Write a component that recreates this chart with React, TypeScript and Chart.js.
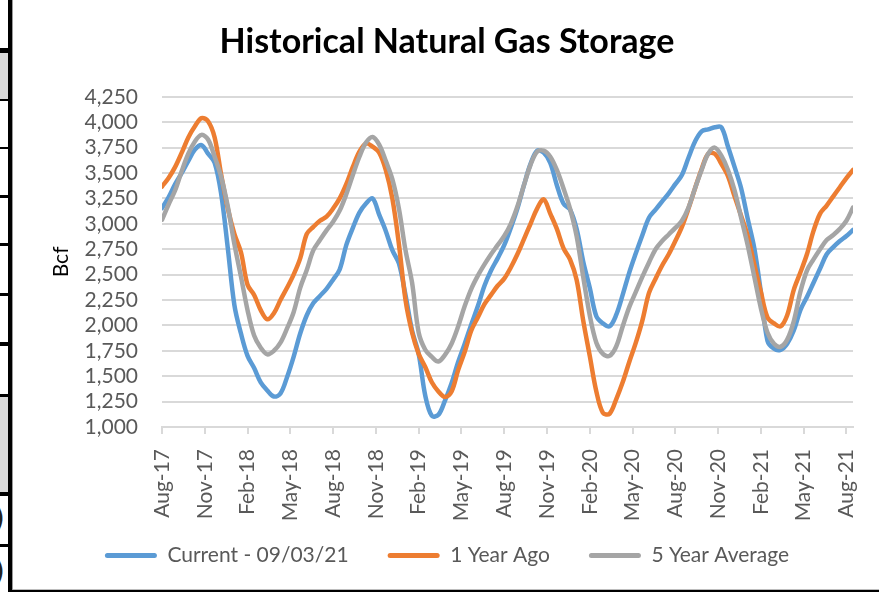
import React, { useEffect, useRef } from 'react';
import { Chart, registerables } from 'chart.js';

Chart.register(...registerables);

// Week index (weekly EIA reports, first = week ending 08/25/17), sampled every 2 weeks
const sampleWeeks = [
  0, 2, 4, 6, 8, 10, 12, 14, 16, 18, 20, 22, 24, 26, 28, 30, 32, 34, 36, 38,
  40, 42, 44, 46, 48, 50, 52, 54, 56, 58, 60, 62, 64, 66, 68, 70, 72, 74, 76, 78,
  80, 82, 84, 86, 88, 90, 92, 94, 96, 98, 100, 102, 104, 106, 108, 110, 112, 114, 116, 118,
  120, 122, 124, 126, 128, 130, 132, 134, 136, 138, 140, 142, 144, 146, 148, 150, 152, 154, 156, 158,
  160, 162, 164, 166, 168, 170, 172, 174, 176, 178, 180, 182, 184, 186, 188, 190, 192, 194, 196, 198,
  200, 202, 204, 206, 208, 210,
];

const tickWeeks = [0, 13, 26, 39, 52, 65, 78, 91, 104, 117, 130, 143, 156, 169, 182, 195, 208];
const tickLabels = [
  'Aug-17', 'Nov-17', 'Feb-18', 'May-18', 'Aug-18', 'Nov-18', 'Feb-19', 'May-19', 'Aug-19',
  'Nov-19', 'Feb-20', 'May-20', 'Aug-20', 'Nov-20', 'Feb-21', 'May-21', 'Aug-21',
];

const seriesNames = ['Current - 09/03/21', '1 Year Ago', '5 Year Average'];

const current = [
  3155, 3260, 3390, 3500, 3620, 3730, 3775, 3690, 3600, 3290, 2760, 2200, 1920, 1700, 1580, 1440, 1360, 1300, 1330, 1490,
  1690, 1920, 2100, 2220, 2290, 2360, 2450, 2550, 2790, 2960, 3110, 3200, 3250, 3090, 2930, 2740, 2610, 2300, 1950, 1720,
  1310, 1110, 1120, 1260, 1430, 1640, 1820, 2010, 2190, 2390, 2540, 2660, 2790, 2960, 3150, 3380, 3590, 3720, 3700, 3600,
  3380, 3200, 3140, 2950, 2630, 2370, 2090, 2020, 1990, 2100, 2300, 2520, 2710, 2890, 3060, 3140, 3220, 3300, 3390, 3480,
  3650, 3810, 3910, 3930, 3950, 3950, 3760, 3560, 3350, 3050, 2760, 2330, 1850, 1770, 1760, 1820, 1950, 2150, 2280, 2420,
  2560, 2700, 2770, 2830, 2880, 2940,
];

const yearAgo = [
  3367, 3450, 3560, 3700, 3850, 3960, 4040, 4010, 3850, 3480, 3150, 2900, 2720, 2400, 2300, 2150, 2060, 2120, 2250, 2370,
  2500, 2660, 2900, 2970, 3030, 3070, 3150, 3250, 3390, 3560, 3710, 3790, 3760, 3700, 3530, 3250, 2800, 2250, 1930, 1720,
  1590, 1440, 1350, 1295, 1350, 1560, 1740, 1950, 2080, 2210, 2300, 2390, 2460, 2570, 2700, 2850, 3000, 3150, 3240, 3100,
  2950, 2760, 2650, 2450, 2050, 1700, 1350, 1140, 1130, 1270, 1440, 1640, 1830, 2050, 2320, 2460, 2590, 2700, 2830, 2970,
  3150, 3350, 3540, 3690, 3690, 3590, 3470, 3270, 3080, 2880, 2600, 2330, 2080, 2020, 1990, 2100, 2350, 2520, 2700, 2930,
  3100, 3180, 3270, 3360, 3450, 3530,
];

const fiveYearAvg = [
  3040, 3190, 3330, 3520, 3690, 3810, 3875, 3830, 3660, 3460, 3170, 2800, 2480, 2150, 1900, 1780, 1715, 1750, 1830, 1970,
  2130, 2370, 2546, 2740, 2840, 2935, 3020, 3130, 3290, 3480, 3660, 3800, 3855, 3780, 3620, 3440, 3150, 2740, 2420, 1930,
  1760, 1690, 1645, 1710, 1820, 1990, 2190, 2360, 2490, 2600, 2700, 2790, 2880, 3000, 3170, 3380, 3580, 3710, 3720, 3660,
  3530, 3350, 3150, 2880, 2480, 2100, 1830, 1720, 1700, 1790, 1990, 2180, 2330, 2480, 2620, 2750, 2830, 2895, 2960, 3030,
  3160, 3350, 3530, 3690, 3750, 3670, 3530, 3330, 3060, 2790, 2480, 2170, 1930, 1820, 1790, 1860, 2040, 2330, 2540, 2650,
  2750, 2840, 2890, 2950, 3030, 3160,
];

const yMin = 1000;
const yMax = 4250;
const yStep = 250;

const colors = ['#5B9BD5', '#ED7D31', '#A5A5A5'];

const FONT = 'Lato, "Liberation Sans", sans-serif';

const deco: { l: number; t: number; w: number; h: number; c: string }[] = [
  { l: 0, t: 48, w: 8, h: 5, c: '#000' },
  { l: 0, t: 53, w: 8, h: 46, c: '#d9d9d9' },
  { l: 0, t: 99, w: 8, h: 2, c: '#000' },
  { l: 0, t: 147, w: 8, h: 2, c: '#000' },
  { l: 0, t: 195, w: 8, h: 3, c: '#000' },
  { l: 0, t: 243, w: 8, h: 3, c: '#000' },
  { l: 0, t: 293, w: 8, h: 3, c: '#000' },
  { l: 0, t: 342, w: 8, h: 4, c: '#000' },
  { l: 0, t: 394, w: 8, h: 3, c: '#000' },
  { l: 0, t: 397, w: 8, h: 95, c: '#d9d9d9' },
  { l: 0, t: 492, w: 8, h: 4, c: '#000' },
  { l: 0, t: 544, w: 8, h: 3, c: '#000' },
  { l: 8, t: 0, w: 4, h: 592, c: '#000' },
  { l: 12, t: 0, w: 1, h: 592, c: '#9a9a9a' },
  { l: 13, t: 589, w: 866, h: 1, c: '#bdbdbd' },
  { l: 12, t: 590, w: 867, h: 2, c: '#000' },
];

function ChartView() {
  const ref = useRef<HTMLCanvasElement | null>(null);
  useEffect(() => {
    if (!ref.current) return;
    const series = [current, yearAgo, fiveYearAvg];
    const chart = new Chart(ref.current, {
      type: 'line',
      data: {
        datasets: series.map((vals, i) => ({
          label: seriesNames[i],
          data: sampleWeeks.map((w, j) => ({ x: w, y: vals[j] })),
          borderColor: colors[i],
          backgroundColor: colors[i],
          borderWidth: 4.5,
          pointRadius: 0,
          tension: 0.35,
          borderCapStyle: 'round',
          borderJoinStyle: 'round',
          fill: false,
          order: 2 - i,
        })),
      },
      options: {
        responsive: false,
        animation: false,
        layout: { padding: { left: 0, right: 26, top: 0, bottom: 13 } },
        plugins: {
          tooltip: { enabled: false },
          title: {
            display: true,
            text: 'Historical Natural Gas Storage',
            color: '#000',
            font: { family: FONT, size: 34, weight: 'bold' },
            padding: { top: 22, bottom: 34 },
          },
          legend: {
            position: 'bottom',
            labels: {
              color: '#595959',
              font: { family: FONT, size: 21 },
              boxWidth: 52,
              boxHeight: 5,
              useBorderRadius: true,
              borderRadius: 2.5,
              padding: 39,
              sort: (a: any, b: any) => a.datasetIndex - b.datasetIndex,
              generateLabels: (c: any) =>
                Chart.defaults.plugins.legend.labels
                  .generateLabels(c)
                  .map((it: any) => ({ ...it, lineWidth: 0, fillStyle: colors[it.datasetIndex] })),
            },
          },
        },
        scales: {
          x: {
            type: 'linear',
            min: sampleWeeks[0],
            max: sampleWeeks[sampleWeeks.length - 1],
            afterBuildTicks: (scale: any) => {
              scale.ticks = tickWeeks.map((v) => ({ value: v }));
            },
            afterFit: (scale: any) => {
              scale.height = 79;
              scale.paddingLeft = 0;
              scale.paddingRight = 0;
              // let the rotated labels overflow into the legend band
              scale._computeLabelArea = () => undefined;
            },
            grid: {
              drawOnChartArea: false,
              drawTicks: true,
              tickLength: 7,
              color: '#d9d9d9',
              lineWidth: 2,
            },
            border: { display: true, color: '#d9d9d9', width: 2 },
            ticks: {
              autoSkip: false,
              minRotation: 90,
              maxRotation: 90,
              padding: 15,
              color: '#595959',
              font: { family: FONT, size: 21 },
              callback: (_v: any, i: number) => tickLabels[i],
            },
          },
          y: {
            min: yMin,
            max: yMax,
            afterFit: (scale: any) => {
              scale.width = 121;
            },
            grid: { color: '#d9d9d9', lineWidth: 2, drawTicks: false },
            border: { display: false },
            ticks: {
              stepSize: yStep,
              autoSkip: false,
              padding: 24,
              color: '#595959',
              font: { family: FONT, size: 21 },
            },
            title: {
              display: true,
              text: 'Bcf',
              color: '#000',
              font: { family: FONT, size: 21 },
              padding: { top: 8, bottom: 0 },
            },
          },
        },
      },
    } as any);
    return () => chart.destroy();
  }, []);
  return (
    <canvas
      ref={ref}
      width={838}
      height={589}
      style={{ position: 'absolute', left: 41, top: 0, width: 838, height: 589 }}
    />
  );
}

export default function App() {
  return (
    <div
      style={{
        position: 'fixed',
        left: 0,
        top: 0,
        width: 879,
        height: 592,
        overflow: 'hidden',
        background: '#fff',
      }}
    >
      {deco.map((d, i) => (
        <div
          key={i}
          style={{ position: 'absolute', left: d.l, top: d.t, width: d.w, height: d.h, background: d.c }}
        />
      ))}
      <div style={{ position: 'absolute', left: 0, top: 496, width: 8, height: 48, overflow: 'hidden' }}>
        <span style={{ position: 'absolute', right: 3, top: 4, font: '30px "DejaVu Sans"', color: '#222' }}>)</span>
      </div>
      <div style={{ position: 'absolute', left: 0, top: 547, width: 8, height: 42, overflow: 'hidden' }}>
        <span style={{ position: 'absolute', right: 3, top: 6, font: '30px "DejaVu Sans"', color: '#222' }}>)</span>
      </div>
      <ChartView />
    </div>
  );
}
